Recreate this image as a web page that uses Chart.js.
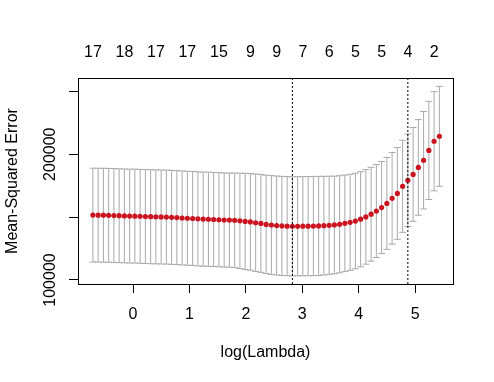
<!DOCTYPE html>
<html>
<head>
<meta charset="utf-8">
<script src="https://cdn.jsdelivr.net/npm/chart.js@4.4.1/dist/chart.umd.min.js"></script>
<style>
  html, body { margin: 0; padding: 0; background: #fff; }
  #wrap { width: 494px; height: 382px; }
</style>
</head>
<body>
<div id="wrap"><canvas id="cv" width="494" height="382"></canvas></div>
<script>
// log(lambda) path of the cv fit
var logLambda = [
  -0.711, -0.618, -0.525, -0.432, -0.339, -0.246, -0.153, -0.060, 0.033, 0.126,
  0.219, 0.312, 0.405, 0.498, 0.591, 0.684, 0.777, 0.870, 0.963, 1.057,
  1.150, 1.243, 1.336, 1.429, 1.522, 1.615, 1.708, 1.801, 1.894, 1.987,
  2.080, 2.173, 2.266, 2.359, 2.452, 2.545, 2.638, 2.731, 2.824, 2.917,
  3.010, 3.103, 3.196, 3.289, 3.382, 3.475, 3.568, 3.661, 3.754, 3.847,
  3.940, 4.033, 4.126, 4.219, 4.312, 4.405, 4.498, 4.591, 4.684, 4.777,
  4.870, 4.963, 5.056, 5.149, 5.242, 5.335, 5.429
];

// mean cross-validated error
var cvm = [
  151600, 151550, 151500, 151400, 151250, 151100, 150950, 150850, 150750, 150600,
  150450, 150300, 150200, 150100, 150000, 149800, 149600, 149300, 149100, 148900,
  148600, 148400, 148300, 148100, 147900, 147700, 147600, 147400, 147000, 146600,
  146200, 145500, 145000, 144200, 143700, 143300, 143000, 142800, 142650, 142700,
  142750, 142800, 142900, 143000, 143200, 143500, 143750, 144280, 145070, 145860,
  146870, 148330, 150160, 152300, 154800, 157600, 160900, 164900, 168850, 174500,
  179300, 183950, 189500, 195200, 203000, 210300, 214250
];

// standard error of cvm
var cvsd = [
  37300, 37300, 37300, 37300, 37300, 37300, 37300, 37300, 37300, 37300,
  37350, 37350, 37350, 37350, 37350, 37350, 37350, 37350, 37350, 37350,
  37400, 37400, 37400, 37400, 37400, 37400, 37400, 37600, 37900, 38200,
  38400, 38700, 38900, 39100, 39250, 39350, 39400, 39400, 39400, 39400,
  39400, 39400, 39400, 39400, 39200, 39000, 38800, 38600, 38400, 38200,
  38000, 37800, 37600, 37300, 36900, 36600, 36500, 36400, 36500, 36600,
  36800, 37300, 38000, 38700, 39000, 39400, 39700
];

// number of nonzero coefficients shown along the top
var nzeroAt = [-0.711, -0.153, 0.405, 0.963, 1.522, 2.080, 2.545, 3.010, 3.475, 3.940, 4.405, 4.870, 5.335];
var nzero = [17, 18, 17, 17, 15, 9, 9, 7, 6, 5, 5, 4, 2];

var lambdaMin = 2.824;
var lambda1se = 4.870;

var xTicks = [0, 1, 2, 3, 4, 5];
var yTicks = [100000, 150000, 200000, 250000];
var yTickLabels = ['100000', '', '200000', ''];

var xMin = -0.975, xMax = 5.67;
var yMin = 96820, yMax = 260570;

var FONT = 'Liberation Sans, Arial, sans-serif';

// error bars like glmnet's error.bars(): stems plus caps
var barw = 0.01 * (logLambda[logLambda.length - 1] - logLambda[0]);
var stems = [], caps = [], points = [];
for (var i = 0; i < logLambda.length; i++) {
  var x = logLambda[i];
  var up = cvm[i] + cvsd[i], lo = cvm[i] - cvsd[i];
  stems.push({x: x, y: lo}, {x: x, y: up}, {x: x, y: null});
  caps.push({x: x - barw, y: up}, {x: x + barw, y: up}, {x: x + barw, y: null});
  caps.push({x: x - barw, y: lo}, {x: x + barw, y: lo}, {x: x + barw, y: null});
  points.push({x: x, y: cvm[i]});
}
var vlines = [
  {x: lambdaMin, y: yMin}, {x: lambdaMin, y: yMax}, {x: lambdaMin, y: null},
  {x: lambda1se, y: yMin}, {x: lambda1se, y: yMax}
];

var boxPlugin = {
  id: 'box',
  afterDraw: function(chart) {
    var a = chart.chartArea, ctx = chart.ctx;
    ctx.save();
    ctx.strokeStyle = '#000';
    ctx.lineWidth = 1;
    ctx.strokeRect(a.left + 0.5, a.top + 0.5, a.right - a.left, a.bottom - a.top);

    // y labels rotated, as R draws them
    var s = chart.scales.y;
    ctx.font = '16px ' + FONT;
    ctx.fillStyle = '#000';
    ctx.textAlign = 'center';
    ctx.textBaseline = 'alphabetic';
    yTicks.forEach(function(v, k) {
      if (!yTickLabels[k]) return;
      ctx.save();
      ctx.translate(s.right - 23, s.getPixelForValue(v));
      ctx.rotate(-Math.PI / 2);
      ctx.fillText(yTickLabels[k], 0, 0);
      ctx.restore();
    });
    ctx.restore();
  }
};

new Chart(document.getElementById('cv'), {
  type: 'line',
  data: {
    datasets: [
      {data: vlines, borderColor: '#000', borderWidth: 1, borderDash: [2, 2], pointRadius: 0, spanGaps: false, order: 0},
      {data: points, showLine: false, pointRadius: 2.6, pointBorderWidth: 0, pointBackgroundColor: '#cc1420', order: 1},
      {data: stems, borderColor: '#a9a9a9', borderWidth: 1, pointRadius: 0, spanGaps: false, order: 2},
      {data: caps, borderColor: '#a9a9a9', borderWidth: 1, pointRadius: 0, spanGaps: false, order: 3}
    ]
  },
  options: {
    responsive: false,
    animation: false,
    devicePixelRatio: 1,
    layout: {padding: {left: 0, right: 41, top: 0, bottom: 0}},
    plugins: {legend: {display: false}, tooltip: {enabled: false}},
    scales: {
      x: {
        type: 'linear', position: 'bottom', min: xMin, max: xMax,
        afterBuildTicks: function(s) { s.ticks = xTicks.map(function(v) { return {value: v}; }); },
        afterFit: function(s) { s.height = 98; s.paddingLeft = 0; s.paddingRight = 0; },
        ticks: {autoSkip: false, maxRotation: 0, padding: 12, color: '#000', font: {family: FONT, size: 16},
          callback: function(v) { return String(v); }},
        grid: {drawOnChartArea: false, drawTicks: true, tickLength: 9, tickColor: '#000', color: '#000'},
        border: {display: false},
        title: {display: true, text: 'log(Lambda)', color: '#000', font: {family: FONT, size: 16}, padding: {top: 0, bottom: 20}}
      },
      x2: {
        type: 'linear', position: 'top', min: xMin, max: xMax,
        afterBuildTicks: function(s) { s.ticks = nzeroAt.map(function(v) { return {value: v}; }); },
        afterFit: function(s) { s.height = 78; s.paddingLeft = 0; s.paddingRight = 0; },
        ticks: {autoSkip: false, maxRotation: 0, padding: 16, color: '#000', font: {family: FONT, size: 16},
          callback: function(v, k) { return String(nzero[k]); }},
        grid: {display: false, drawTicks: false},
        border: {display: false}
      },
      y: {
        type: 'linear', position: 'left', min: yMin, max: yMax,
        afterBuildTicks: function(s) { s.ticks = yTicks.map(function(v) { return {value: v}; }); },
        afterFit: function(s) { s.width = 78; s.paddingTop = 0; s.paddingBottom = 0; },
        ticks: {display: false},
        grid: {drawOnChartArea: false, drawTicks: true, tickLength: 9, tickColor: '#000', color: '#000'},
        border: {display: false},
        title: {display: true, text: 'Mean-Squared Error', color: '#000', font: {family: FONT, size: 16}, padding: {top: 3, bottom: 0}}
      }
    }
  },
  plugins: [boxPlugin]
});
</script>
</body>
</html>
